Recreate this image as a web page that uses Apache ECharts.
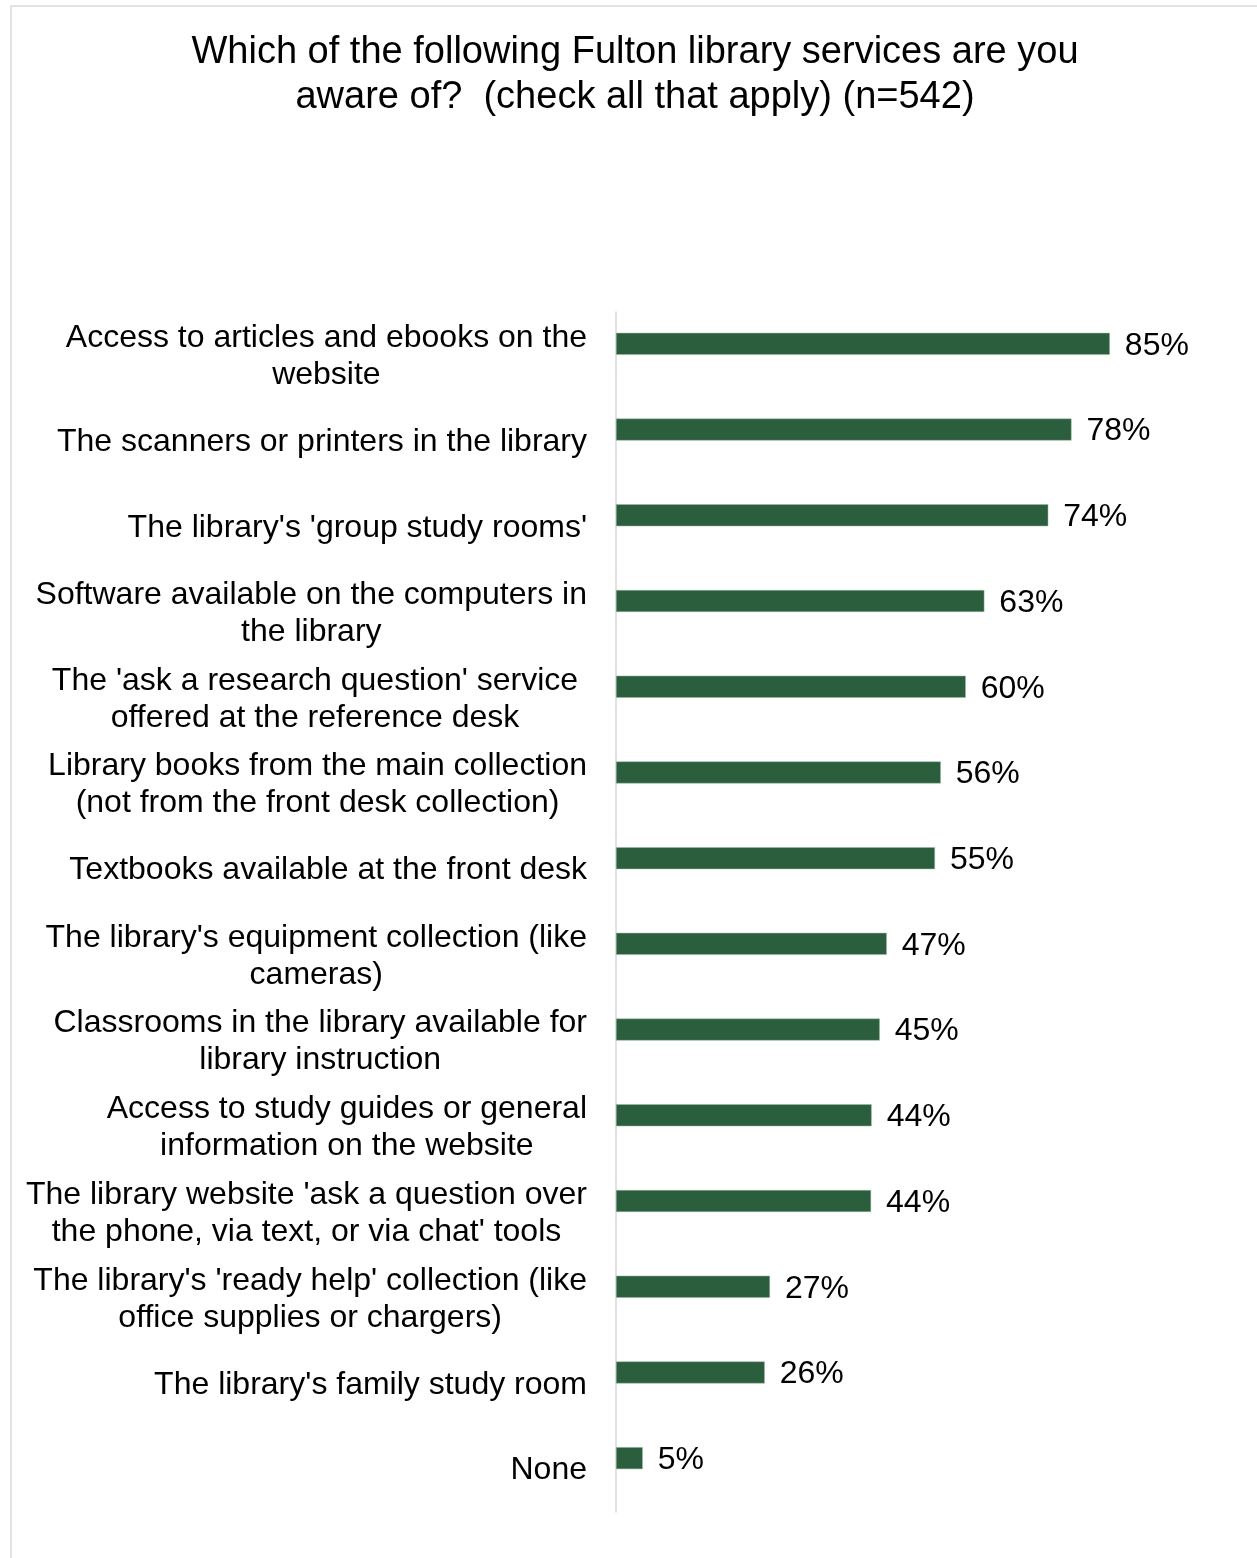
<!DOCTYPE html>
<html>
<head>
<meta charset="utf-8">
<script src="https://cdn.jsdelivr.net/npm/echarts@6/dist/echarts.min.js"></script>
<style>
html,body{margin:0;padding:0;background:#fff;}
#chart{width:1257px;height:1558px;}
</style>
</head>
<body>
<div id="chart"></div>
<script>
const titleText = "Which of the following Fulton library services are you\naware of?  (check all that apply) (n=542)";

const categories = [
  "Access to articles and ebooks on the\nwebsite",
  "The scanners or printers in the library",
  "The library's 'group study rooms'",
  "Software available on the computers in\nthe library",
  " The 'ask a research question' service \noffered at the reference desk",
  "Library books from the main collection\n(not from the front desk collection)",
  "Textbooks available at the front desk",
  "The library's equipment collection (like\ncameras)",
  "Classrooms in the library available for\nlibrary instruction",
  "Access to study guides or general\ninformation on the website",
  "The library website 'ask a question over\nthe phone, via text, or via chat' tools",
  "The library's 'ready help' collection (like\noffice supplies or chargers)",
  "The library's family study room",
  "None"
];

// percent aware (bar lengths; labels show rounded values)
const awareValues = [85.0, 78.4, 74.4, 63.4, 60.2, 55.9, 54.9, 46.6, 45.4, 44.0, 43.9, 26.5, 25.6, 4.6];

const FONT = "'Liberation Sans', Arial, sans-serif";

const chart = echarts.init(document.getElementById('chart'), null, {renderer: 'canvas'});

chart.setOption({
  backgroundColor: '#ffffff',
  animation: false,
  title: {
    text: titleText,
    left: 635,
    top: 30,
    padding: 0,
    textAlign: 'center',
    textStyle: {
      fontFamily: FONT,
      fontSize: 38,
      fontWeight: 'normal',
      lineHeight: 45,
      color: '#000000'
    }
  },
  graphic: [{
    type: 'rect',
    silent: true,
    shape: {x: 11, y: 6, width: 1400, height: 1700},
    style: {fill: 'none', stroke: '#d9d9d9', lineWidth: 1.5}
  }],
  grid: {
    left: 616,
    top: 312,
    width: 581,
    height: 1200,
    containLabel: false
  },
  xAxis: {
    type: 'value',
    min: 0,
    max: 100,
    show: false,
    splitLine: {show: false}
  },
  yAxis: {
    type: 'category',
    data: categories,
    inverse: true,
    axisLine: {show: true, lineStyle: {color: '#d9d9d9', width: 1.5}},
    axisTick: {show: false},
    splitLine: {show: false},
    axisLabel: {
      interval: 0,
      margin: 29,
      align: 'right',
      color: '#000000',
      fontFamily: FONT,
      fontSize: 32,
      lineHeight: 37,
      padding: [3, 0, 0, 0],
      formatter: function (v) {
        return v.split('\n').map(function (l) { return '{c|' + l + '}'; }).join('\n');
      },
      rich: {
        c: {
          align: 'center',
          fontFamily: FONT,
          fontSize: 32,
          lineHeight: 37,
          color: '#000000'
        }
      }
    }
  },
  series: [
    {
      name: 'Aware',
      type: 'bar',
      data: awareValues,
      barWidth: 22,
      barGap: '0%',
      itemStyle: {color: '#2a5e3c', borderColor: '#9fb8a6', borderWidth: 0.5},
      label: {
        show: true,
        position: 'right',
        distance: 15,
        offset: [0, 2],
        color: '#000000',
        fontFamily: FONT,
        fontSize: 32,
        formatter: function (p) { return Math.round(p.value) + '%'; }
      }
    },
    {
      name: 'spacer',
      type: 'bar',
      data: categories.map(function () { return null; }),
      barWidth: 22,
      barGap: '0%',
      silent: true,
      itemStyle: {color: 'transparent'}
    }
  ]
});
</script>
</body>
</html>
